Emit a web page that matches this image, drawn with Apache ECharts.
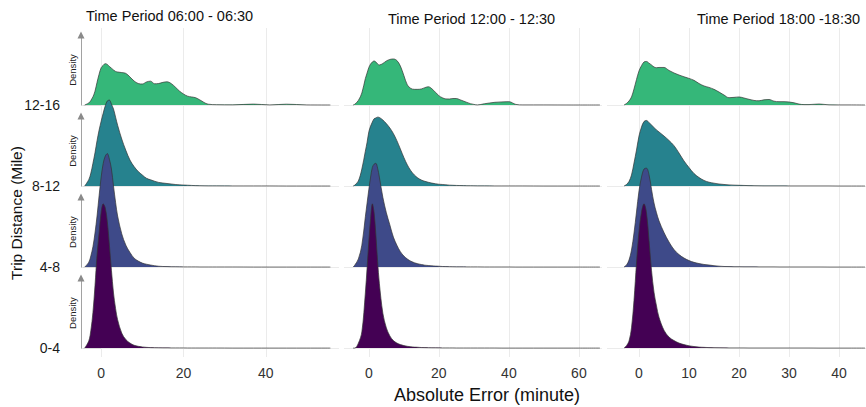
<!DOCTYPE html>
<html>
<head>
<meta charset="utf-8">
<title>Absolute Error by Trip Distance</title>
<script src="https://cdn.jsdelivr.net/npm/echarts@6.0.0/dist/echarts.min.js"></script>
<style>
  html, body { margin: 0; padding: 0; background: #fff; }
  #chart { width: 866px; height: 407px; }
</style>
</head>
<body>
<div id="chart"></div>
<script>
// rows, bottom to top
var distances = ['0-4', '4-8', '8-12', '12-16']
var rowColors = ['#440154', '#3e4a89', '#26828e', '#35b779']
var periods = ['Time Period 06:00 - 06:30', 'Time Period 12:00 - 12:30', 'Time Period 18:00 -18:30']

// 06:00 - 06:30 : absolute error (minute) and ridge density per distance row
var err0630 = [-4, -3, -2.5, -2, -1.5, -1, -0.5, 0, 0.5, 1, 1.5, 2, 2.5, 3, 3.5, 4, 5, 6, 7, 8, 9, 10, 11, 12, 13, 14, 15, 16, 17, 18, 19, 20, 21, 22, 23, 24, 26, 28, 32, 37, 41, 45, 50, 55.7]
var dens0630_0_4 = [0, 0.09, 0.22, 0.44, 0.77, 1.15, 1.42, 1.68, 1.78, 1.73, 1.56, 1.27, 0.96, 0.68, 0.49, 0.35, 0.185, 0.105, 0.062, 0.035, 0.022, 0.014, 0.009, 0.006, 0.005, 0.004, 0.003, 0.003, 0.002, 0.002, 0.002, 0.002, 0.001, 0.001, 0.001, 0.001, 0.001, 0.001, 0, 0, 0, 0, 0, 0]
var dens0630_4_8 = [0, 0.06, 0.14, 0.25, 0.42, 0.63, 0.88, 1.11, 1.28, 1.37, 1.4, 1.33, 1.21, 1.0, 0.8, 0.63, 0.41, 0.27, 0.18, 0.11, 0.074, 0.049, 0.035, 0.025, 0.016, 0.01, 0.007, 0.006, 0.004, 0.004, 0.003, 0.002, 0.002, 0.002, 0.002, 0.001, 0.001, 0.001, 0.001, 0, 0, 0, 0, 0]
var dens0630_8_12 = [0, 0.08, 0.16, 0.28, 0.41, 0.56, 0.69, 0.8, 0.9, 0.99, 1.05, 1.06, 1.01, 0.95, 0.85, 0.75, 0.58, 0.44, 0.32, 0.24, 0.18, 0.136, 0.096, 0.077, 0.059, 0.044, 0.037, 0.031, 0.025, 0.019, 0.015, 0.012, 0.01, 0.007, 0.005, 0.004, 0.002, 0.002, 0.001, 0.001, 0.001, 0, 0, 0]
var dens0630_12_16 = [0, 0.025, 0.056, 0.1, 0.17, 0.28, 0.38, 0.46, 0.49, 0.51, 0.5, 0.475, 0.454, 0.432, 0.414, 0.407, 0.4, 0.39, 0.346, 0.296, 0.265, 0.259, 0.284, 0.294, 0.262, 0.265, 0.279, 0.286, 0.265, 0.222, 0.173, 0.136, 0.109, 0.099, 0.089, 0.062, 0.01, 0.004, 0.002, 0.011, 0.001, 0.01, 0.001, 0]
var ticks0630 = [0, 20, 40]

// 12:00 - 12:30
var err1200 = [-4.5, -4, -3, -2, -1, -0.5, 0, 0.5, 1, 1.5, 2, 2.5, 3, 4, 5, 6, 7, 8, 9, 10, 11, 12, 13, 14, 15, 16, 17, 18, 19, 20, 21, 22, 23, 24, 25, 26, 27, 28, 29, 30, 31, 33, 36, 38, 40, 42, 44, 50, 58, 66]
var dens1200_0_4 = [0, 0, 0.06, 0.2, 0.68, 0.99, 1.32, 1.6, 1.78, 1.67, 1.4, 1.07, 0.8, 0.43, 0.25, 0.15, 0.093, 0.062, 0.043, 0.031, 0.022, 0.016, 0.012, 0.01, 0.007, 0.006, 0.005, 0.004, 0.004, 0.003, 0.002, 0.002, 0.002, 0.002, 0.001, 0.001, 0.001, 0.001, 0.001, 0.001, 0.001, 0.001, 0.001, 0, 0, 0, 0, 0, 0, 0]
var dens1200_4_8 = [0, 0.025, 0.1, 0.27, 0.62, 0.79, 0.96, 1.11, 1.23, 1.27, 1.28, 1.22, 1.11, 0.86, 0.67, 0.52, 0.37, 0.27, 0.19, 0.136, 0.099, 0.072, 0.053, 0.04, 0.031, 0.023, 0.019, 0.015, 0.012, 0.01, 0.007, 0.006, 0.005, 0.004, 0.003, 0.003, 0.003, 0.002, 0.002, 0.002, 0.002, 0.001, 0.001, 0.001, 0.001, 0, 0, 0, 0, 0]
var dens1200_8_12 = [0, 0.012, 0.062, 0.21, 0.43, 0.54, 0.67, 0.74, 0.79, 0.83, 0.84, 0.85, 0.846, 0.815, 0.77, 0.716, 0.648, 0.56, 0.457, 0.352, 0.26, 0.188, 0.136, 0.099, 0.074, 0.058, 0.046, 0.036, 0.028, 0.022, 0.019, 0.015, 0.011, 0.009, 0.007, 0.006, 0.005, 0.004, 0.004, 0.003, 0.002, 0.002, 0.001, 0.001, 0.001, 0.001, 0.001, 0, 0, 0]
var dens1200_12_16 = [0, 0.01, 0.056, 0.148, 0.327, 0.395, 0.463, 0.506, 0.531, 0.543, 0.531, 0.506, 0.494, 0.512, 0.543, 0.562, 0.568, 0.549, 0.481, 0.364, 0.247, 0.204, 0.193, 0.193, 0.198, 0.214, 0.225, 0.2, 0.158, 0.115, 0.089, 0.075, 0.074, 0.08, 0.08, 0.065, 0.049, 0.032, 0.016, 0.007, 0.001, 0.015, 0.033, 0.038, 0.041, 0.007, 0.001, 0.001, 0, 0]
var ticks1200 = [0, 20, 40, 60]

// 18:00 - 18:30
var err1800 = [-3, -2.5, -2, -1.5, -1, -0.5, 0, 0.5, 1, 1.5, 2, 2.5, 3, 3.5, 4, 5, 6, 7, 8, 9, 10, 11, 12, 13, 14, 15, 16, 17, 18, 19, 20, 21, 22, 23, 24, 25, 26, 27, 28, 29, 30, 31, 32, 33, 34, 36, 38, 40, 42, 45.2]
var dens1800_0_4 = [0, 0.03, 0.086, 0.25, 0.59, 1.05, 1.44, 1.68, 1.78, 1.67, 1.33, 0.96, 0.69, 0.52, 0.38, 0.22, 0.136, 0.093, 0.062, 0.043, 0.028, 0.019, 0.012, 0.009, 0.006, 0.005, 0.004, 0.003, 0.002, 0.002, 0.002, 0.002, 0.001, 0.001, 0.001, 0.001, 0.001, 0.001, 0.001, 0.001, 0.001, 0.001, 0.001, 0.001, 0.001, 0, 0, 0, 0, 0]
var dens1800_4_8 = [0, 0.025, 0.086, 0.21, 0.42, 0.68, 0.94, 1.11, 1.21, 1.22, 1.14, 0.96, 0.79, 0.67, 0.57, 0.426, 0.309, 0.216, 0.154, 0.111, 0.08, 0.058, 0.043, 0.032, 0.025, 0.017, 0.011, 0.007, 0.006, 0.004, 0.004, 0.003, 0.003, 0.003, 0.002, 0.002, 0.002, 0.002, 0.001, 0.001, 0.001, 0.001, 0.001, 0.001, 0.001, 0.001, 0, 0, 0, 0]
var dens1800_8_12 = [0, 0.019, 0.056, 0.136, 0.284, 0.444, 0.617, 0.728, 0.796, 0.809, 0.784, 0.753, 0.722, 0.691, 0.667, 0.617, 0.562, 0.498, 0.407, 0.309, 0.228, 0.154, 0.105, 0.069, 0.047, 0.035, 0.025, 0.019, 0.014, 0.011, 0.009, 0.007, 0.005, 0.004, 0.003, 0.002, 0.002, 0.002, 0.002, 0.002, 0.001, 0.001, 0.001, 0.001, 0.001, 0.001, 0.001, 0, 0, 0]
var dens1800_12_16 = [0, 0.019, 0.049, 0.099, 0.198, 0.315, 0.42, 0.485, 0.531, 0.537, 0.516, 0.494, 0.469, 0.46, 0.463, 0.463, 0.426, 0.395, 0.37, 0.348, 0.328, 0.304, 0.265, 0.235, 0.217, 0.193, 0.16, 0.123, 0.09, 0.094, 0.099, 0.086, 0.07, 0.056, 0.052, 0.064, 0.068, 0.047, 0.041, 0.041, 0.037, 0.027, 0.011, 0.005, 0.005, 0.012, 0.002, 0.001, 0.001, 0]
var ticks1800 = [0, 10, 20, 30, 40]

// layout
var FONT = '"Liberation Sans", Arial, Helvetica, sans-serif'
var GRID_TOP = 28
var GRID_BOTTOM = 50
var Y_MIN = -0.11
var Y_MAX = 3.95
var ROW_PX = (407 - GRID_TOP - GRID_BOTTOM) / (Y_MAX - Y_MIN)

var panels = [
  { title: periods[0], xs: err0630, rows: [dens0630_0_4, dens0630_4_8, dens0630_8_12, dens0630_12_16], ticks: ticks0630, min: -4.9, max: 57.8, left: 81, width: 258, tx: 86, ty: 15.5 },
  { title: periods[1], xs: err1200, rows: [dens1200_0_4, dens1200_4_8, dens1200_8_12, dens1200_12_16], ticks: ticks1200, min: -7.1, max: 66.6, left: 344, width: 258, tx: 388, ty: 19 },
  { title: periods[2], xs: err1800, rows: [dens1800_0_4, dens1800_4_8, dens1800_8_12, dens1800_12_16], ticks: ticks1800, min: -6.4, max: 45.4, left: 607, width: 259, tx: 697, ty: 19 }
]

var grids = []
var xAxes = []
var yAxes = []
var series = []
var graphics = []

panels.forEach(function (p, pi) {
  grids.push({ left: p.left, width: p.width, top: GRID_TOP, bottom: GRID_BOTTOM, outerBoundsMode: 'none' })
  xAxes.push({
    type: 'value',
    gridIndex: pi,
    min: p.min,
    max: p.max,
    axisLine: { show: false },
    axisTick: { show: false, customValues: p.ticks },
    axisLabel: { customValues: p.ticks, color: '#333', fontSize: 14, fontFamily: FONT, margin: 9 },
    splitLine: { show: true, lineStyle: { color: '#ebebeb', width: 1 } }
  })
  yAxes.push({
    type: 'value',
    gridIndex: pi,
    min: Y_MIN,
    max: Y_MAX,
    axisLine: { show: false },
    axisTick: { show: pi === 0, length: 18, customValues: [0, 1, 2, 3], lineStyle: { color: '#dcdcdc' } },
    axisLabel: {
      show: pi === 0,
      customValues: [0, 1, 2, 3],
      margin: 21,
      color: '#1a1a1a',
      fontSize: 14,
      fontFamily: FONT,
      formatter: function (v) { return distances[Math.round(v)] }
    },
    splitLine: { show: true, lineStyle: { color: '#ebebeb', width: 1 } }
  })
  // top row first so the lower ridges overlap the upper ones
  for (var r = distances.length - 1; r >= 0; r--) {
    var dens = p.rows[r]
    series.push({
      name: distances[r],
      type: 'line',
      xAxisIndex: pi,
      yAxisIndex: pi,
      data: p.xs.map(function (x, i) { return [x, r + dens[i]] }),
      smooth: 0.35,
      showSymbol: false,
      symbol: 'none',
      clip: false,
      silent: true,
      lineStyle: { color: '#333', width: 0.7 },
      areaStyle: { color: rowColors[r], opacity: 1, origin: r }
    })
  }
  graphics.push({
    type: 'text',
    x: p.tx,
    y: p.ty,
    style: { text: p.title, fill: '#111', font: '14.5px ' + FONT, align: 'left', verticalAlign: 'middle' }
  })
})

// small "Density" axes with arrow, one per row on the first panel
distances.forEach(function (d, r) {
  var gi = grids.length
  var baseline = GRID_TOP + (Y_MAX - r) * ROW_PX
  grids.push({ left: panels[0].left, width: 10, top: baseline - 70, height: 70, outerBoundsMode: 'none' })
  xAxes.push({ type: 'value', gridIndex: gi, min: 0, max: 1, show: false })
  yAxes.push({
    type: 'value',
    gridIndex: gi,
    min: 0,
    max: 1,
    name: 'Density',
    nameLocation: 'middle',
    nameGap: 4,
    nameTextStyle: { fontSize: 9.5, color: '#222', fontFamily: FONT },
    axisLine: { show: true, symbol: ['none', 'triangle'], symbolSize: [7, 7], lineStyle: { color: '#8a8a8a', width: 0.8 } },
    axisTick: { show: false },
    axisLabel: { show: false },
    splitLine: { show: false }
  })
})

graphics.push({
  type: 'text',
  x: 16,
  y: 213,
  rotation: Math.PI / 2,
  style: { text: 'Trip Distance (Mile)', fill: '#111', font: '15.5px ' + FONT, align: 'center', verticalAlign: 'middle' }
})
graphics.push({
  type: 'text',
  x: 487,
  y: 395,
  style: { text: 'Absolute Error (minute)', fill: '#111', font: '18px ' + FONT, align: 'center', verticalAlign: 'middle' }
})

var chart = echarts.init(document.getElementById('chart'), null, { renderer: 'svg' })
chart.setOption({
  animation: false,
  backgroundColor: '#fff',
  textStyle: { fontFamily: FONT },
  grid: grids,
  xAxis: xAxes,
  yAxis: yAxes,
  series: series,
  graphic: graphics
})
</script>
</body>
</html>
